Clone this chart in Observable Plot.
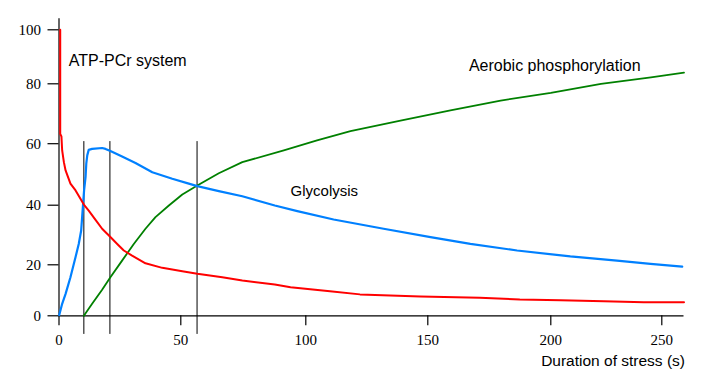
<!DOCTYPE html>
<html><head><meta charset="utf-8">
<script src="https://cdn.jsdelivr.net/npm/d3@7"></script>
<script src="https://cdn.jsdelivr.net/npm/@observablehq/plot@0.6"></script>
<style>body{margin:0;background:#fff}</style>
</head><body><div id="chart"></div>
<script>
// ATP-PCr system (red)
const atpT = [0.5, 0.5, 1.0, 1.3, 2.0, 2.7, 4.7, 6.8, 10.2, 12.2, 15.0, 17.7, 20.9, 23.9, 26.6, 30.0, 35.5, 42.4, 50.6, 56.6, 66.6, 74.6, 87.6, 93.9, 109.9, 122.2, 147.0, 171.1, 187.4, 204.4, 223.9, 241.9, 260];
const atpV = [100, 63.3, 62.4, 57.8, 54.0, 51.3, 47.0, 44.8, 40.2, 38.2, 35.1, 32.1, 29.5, 27.0, 24.8, 23.1, 20.5, 18.8, 17.5, 16.5, 15.1, 13.8, 12.3, 11.2, 9.6, 8.4, 7.6, 7.1, 6.4, 6.1, 5.7, 5.3, 5.3];
// Glycolysis (blue)
const glyT = [0.1, 1.3, 2.7, 4.7, 6.8, 8.1, 9.1, 9.5, 9.9, 10.3, 10.9, 11.2, 11.6, 12.2, 13.6, 17.7, 19.1, 21.1, 25.9, 31.4, 38.3, 46.5, 53.2, 56.6, 65.2, 74.6, 87.6, 96.6, 111.4, 131.9, 151.1, 167.3, 186.3, 208.8, 229.8, 244.9, 259.2];
const glyV = [0.3, 4.7, 8.6, 15.1, 22.6, 27.0, 31.5, 36.0, 40.5, 44.8, 49.1, 53.5, 56.2, 58.0, 58.3, 58.6, 58.3, 57.6, 55.8, 53.7, 50.7, 48.6, 47.0, 46.2, 44.6, 42.9, 39.9, 38.0, 35.2, 32.1, 29.3, 27.0, 24.8, 22.8, 21.4, 20.3, 19.3];
// Aerobic phosphorylation (green)
const aerT = [10.2, 13.6, 17.7, 21.1, 25.9, 30.7, 35.5, 39.6, 45.1, 50.6, 56.6, 65.2, 74.6, 91.2, 104.6, 118.3, 138.8, 159.2, 179.6, 200.0, 222.6, 245.1, 260];
const aerV = [0, 4.7, 10.2, 15.1, 21.4, 27.0, 32.1, 36.0, 39.9, 43.5, 46.4, 50.4, 54.0, 57.8, 61.1, 64.2, 67.7, 71.1, 74.4, 77.0, 80.0, 82.4, 84.1];

// phase boundaries (vertical lines)
const phaseT = [10.2, 20.9, 56.5];
const phaseTop = 60.7, phaseBottom = -7.3;

// ticks
const xTicks = [0, 50, 100, 150, 200, 250];
const yTicks = [0, 20, 40, 60, 80, 100];

// labels
const labelNames = ["ATP-PCr system", "Aerobic phosphorylation", "Glycolysis"];
const labelT = [4.0, 166.7, 93.9];
const labelV = [88.6, 86.6, 44.7];
const labelSize = [16, 16, 15];
const xTitle = "Duration of stress (s)";

const toRows = (T, V) => T.map((t, i) => ({t, v: V[i]}));
const atp = toRows(atpT, atpV), gly = toRows(glyT, glyV), aer = toRows(aerT, aerV);
const labels = labelNames.map((name, i) => ({name, t: labelT[i], v: labelV[i], size: labelSize[i]}));

// the original axes are slightly uneven: piecewise-linear warp of each axis
const xWarp = d3.scaleLinear().domain([0, 50, 100, 150, 200, 250, 260]).range([58.5, 180.3, 305.3, 427.3, 550.3, 661.3, 683.5]);
const yWarp = d3.scaleLinear().domain([0, 20, 40, 60, 80, 100]).range([315.3, 264.3, 204.7, 143.2, 83.3, 29.3]);

const chart = Plot.plot({
  width: 704,
  height: 388,
  marginLeft: 58.5,
  marginRight: 20.5,
  marginTop: 18,
  marginBottom: 72.7,
  style: {fontFamily: "Liberation Serif", fontSize: "15px", background: "#fff", color: "#000"},
  x: {transform: xWarp, domain: [58.5, 683.5], axis: null},
  y: {transform: yWarp, domain: [315.3, 18], axis: null},
  marks: [
    Plot.ruleY([0], {x1: 0, x2: 260, stroke: "#000", strokeWidth: 1.2}),
    Plot.ruleX([0], {y1: 0, y2: 104.1, stroke: "#000", strokeWidth: 1.2}),
    Plot.ruleX(phaseT, {y1: phaseBottom, y2: phaseTop, stroke: "#000", strokeWidth: 1}),
    Plot.axisX(xTicks, {tickSize: 10, tickPadding: 9, tickFormat: d => String(d), label: null, fontSize: 15, strokeWidth: 1.2}),
    Plot.axisY(yTicks, {tickSize: 11, tickPadding: 7, tickFormat: d => String(d), label: null, fontSize: 15, strokeWidth: 1.2}),
    Plot.line(aer, {x: "t", y: "v", stroke: "#008000", strokeWidth: 1.8}),
    Plot.line(gly, {x: "t", y: "v", stroke: "#0080ff", strokeWidth: 2.2}),
    Plot.line(atp, {x: "t", y: "v", stroke: "#ff0000", strokeWidth: 2}),
    Plot.text(labels, {x: "t", y: "v", text: "name", fontSize: "size", textAnchor: "start", fontFamily: "Liberation Sans", fill: "#000"}),
    Plot.text([xTitle], {frameAnchor: "bottom-right", textAnchor: "end", dx: 1, dy: 50.6, fontSize: 15.5, fontFamily: "Liberation Sans", fill: "#000"})
  ]
});
document.getElementById("chart").appendChild(chart);
</script>
</body></html>
